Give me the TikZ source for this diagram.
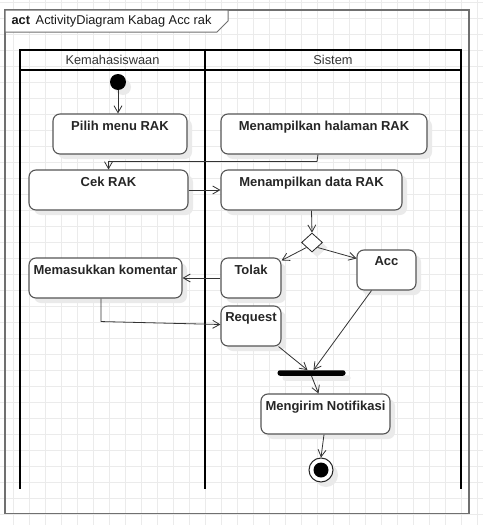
\documentclass[tikz,border=0pt]{standalone}
\usepackage{fontspec}
\setmainfont{Liberation Sans}
\usepackage{xcolor}
\definecolor{gridgray}{HTML}{EBEBEB}
\definecolor{framegray}{HTML}{707070}
\definecolor{boxedge}{HTML}{555555}
\definecolor{shade}{HTML}{EAEAEA}
\usepackage{tikz}
\usetikzlibrary{arrows.meta, shapes.geometric, positioning, calc, shadows}

\tikzset{
  gridline/.style={gridgray, line width=1pt},
  softshadow/.style={drop shadow={shadow xshift=5pt, shadow yshift=-5pt, fill=shade, opacity=1}},
  actbox/.style={draw=boxedge, line width=1.1pt, rounded corners=7pt, fill=white,
    inner sep=0pt, softshadow},
  boxtext/.style={anchor=north, yshift=-5.3pt, inner sep=2pt, text=black!85,
    font=\fontsize{13pt}{15pt}\selectfont\bfseries},
  lanetext/.style={text=black!80, font=\fontsize{12.8pt}{15pt}\selectfont},
  flow/.style={draw=black!80, line width=0.8pt, -{Straight Barb[length=7pt, width=8pt]}},
}

\begin{document}
\begin{tikzpicture}[x=1pt, y=-1pt]
  \useasboundingbox (0,0) rectangle (483,525);
  \fill[white] (0,0) rectangle (483,525);

  % grid
  \foreach \gx in {0,...,29}
    \draw[gridline] ({13.3+16*\gx},0) -- ({13.3+16*\gx},525);
  \foreach \gy in {0,...,32}
    \draw[gridline] (0,{2+16*\gy}) -- (483,{2+16*\gy});

  % frame and title tab
  \draw[framegray, line width=1.6pt] (5,10) rectangle (469,513.5);
  \draw[framegray, line width=1pt, fill=white]
    (5,10) -- (228,10) -- (228,21) -- (217,32) -- (5,32) -- cycle;
  \node[lanetext, anchor=west, text=black!90] (title) at (8,21)
    {\textbf{act}\, ActivityDiagram Kabag Acc rak};

  % swimlanes
  \draw[line width=2pt] (20,50) rectangle (461,70);
  \draw[line width=2pt] (20,50) -- (20,489);
  \draw[line width=2pt] (205,50) -- (205,489);
  \draw[line width=2pt] (461,50) -- (461,489);
  \node[lanetext] (laneA) at (112.5,60) {Kemahasiswaan};
  \node[lanetext] (laneB) at (333,60) {Sistem};

  % start / end
  \node[circle, fill=black, minimum size=16pt, inner sep=0pt, softshadow] (start) at (118,82) {};
  \node[circle, draw=black!85, line width=1pt, fill=white, minimum size=24pt, inner sep=0pt,
    softshadow] (fin) at (321,470) {};
  \node[circle, fill=black, minimum size=15pt, inner sep=0pt] (finin) at (fin.center) {};

  % activities
  \node[actbox, minimum width=134pt, minimum height=40pt,
    label={[boxtext]north:Pilih menu RAK}] (pilih) at (120,134) {};
  \node[actbox, minimum width=206pt, minimum height=40pt,
    label={[boxtext]north:Menampilkan halaman RAK}] (halaman) at (324,134) {};
  \node[actbox, minimum width=159pt, minimum height=40pt,
    label={[boxtext]north:Cek RAK}] (cek) at (108.5,190) {};
  \node[actbox, minimum width=181pt, minimum height=40pt,
    label={[boxtext]north:Menampilkan data RAK}] (data) at (311.5,190) {};
  \node[diamond, draw=black!85, line width=0.8pt, fill=white, minimum width=21pt,
    minimum height=19pt, inner sep=0pt, softshadow] (dec) at (312,242.5) {};
  \node[actbox, minimum width=60pt, minimum height=40pt,
    label={[boxtext]north:Tolak}] (tolak) at (251,278) {};
  \node[actbox, minimum width=59pt, minimum height=40pt,
    label={[boxtext]north:Acc}] (acc) at (386.5,270) {};
  \node[actbox, minimum width=153pt, minimum height=40pt,
    label={[boxtext]north:Memasukkan komentar}] (komentar) at (105.5,278) {};
  \node[actbox, minimum width=60pt, minimum height=40pt,
    label={[boxtext]north:Request}] (request) at (251,326) {};
  \node[fill=black, rounded corners=2.5pt, minimum width=68pt, minimum height=5.5pt,
    inner sep=0pt, softshadow] (fork) at (311.5,373) {};
  \node[actbox, minimum width=129pt, minimum height=40pt,
    label={[boxtext]north:Mengirim Notifikasi}] (notif) at (325.5,414) {};

  % flows
  \draw[flow] (start.south) -- (start.south |- pilih.north);
  \draw[flow] ($(halaman.south)+(-6,0)$) -- ++(-1,7) -| (cek.north);
  \draw[flow] (cek.east) -- (data.west);
  \draw[flow] (data.south) -- (dec.north);
  \draw[flow] (dec.south west) -- ($(tolak.north east)+(0,3)$);
  \draw[flow] (dec.south east) -- ($(acc.north west)+(0,9)$);
  \draw[flow] (tolak.west) -- (komentar.east);
  \draw[flow] ($(komentar.south)+(-4.5,0)$) -- ++(0,23) -- ($(request.west)+(0,-1.5)$);
  \draw[flow] ($(request.south east)+(-3,0)$) -- ($(fork.north)+(-4,0)$);
  \draw[flow] ($(acc.south)+(-15,0)$) -- ($(fork.north)+(2,0)$);
  \draw[flow] (fork.south) -- ($(notif.north)+(-7,0)$);
  \draw[flow] ($(notif.south)+(-1.5,0)$) -- (fin.north);
\end{tikzpicture}
\end{document}
